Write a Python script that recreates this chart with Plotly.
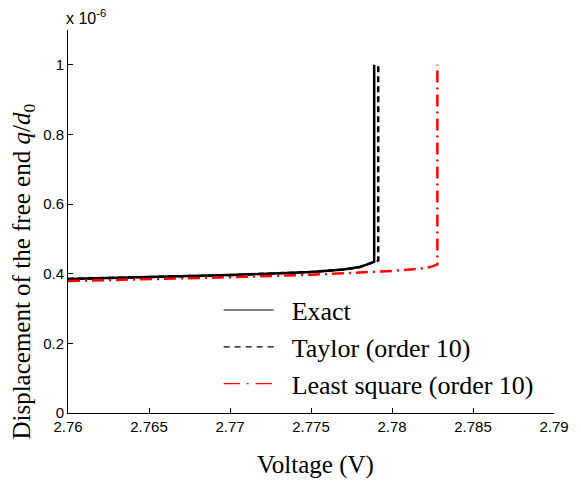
import plotly.graph_objects as go

# Data (displacement in units of 1e-6)
exact_v = [2.760, 2.765, 2.770, 2.775, 2.777, 2.778, 2.7785, 2.7789, 2.7789]
exact_q = [0.385, 0.390, 0.396, 0.405, 0.412, 0.419, 0.427, 0.434, 1.000]

taylor_v = [2.760, 2.765, 2.770, 2.775, 2.777, 2.778, 2.7785, 2.7789, 2.77915, 2.77915]
taylor_q = [0.385, 0.390, 0.396, 0.405, 0.412, 0.419, 0.427, 0.434, 0.438, 1.000]

ls_v = [2.760, 2.765, 2.770, 2.775, 2.780, 2.782, 2.7825, 2.7828, 2.7828]
ls_q = [0.379, 0.384, 0.390, 0.397, 0.408, 0.416, 0.421, 0.427, 1.000]

x_ticks = [2.76, 2.765, 2.77, 2.775, 2.78, 2.785, 2.79]
x_labels = ["2.76", "2.765", "2.77", "2.775", "2.78", "2.785", "2.79"]
y_ticks = [0, 0.2, 0.4, 0.6, 0.8, 1.0]
y_labels = ["0", "0.2", "0.4", "0.6", "0.8", "1"]

SERIF = "Liberation Serif, Times New Roman, serif"
SANS = "Liberation Sans, Arial, sans-serif"
PAD = "\u00a0\u00a0"

fig = go.Figure()
fig.add_trace(go.Scatter(x=exact_v, y=exact_q, mode="lines", showlegend=False,
                         line=dict(color="black", width=2.5)))
fig.add_trace(go.Scatter(x=taylor_v, y=taylor_q, mode="lines", showlegend=False,
                         line=dict(color="black", width=2.5, dash="6px,4px")))
fig.add_trace(go.Scatter(x=ls_v, y=ls_q, mode="lines", showlegend=False,
                         line=dict(color="#ff0000", width=2.5, dash="12px,5px,2px,5px")))

# legend entries (thin lines like the reference)
fig.add_trace(go.Scatter(x=[None], y=[None], mode="lines", name=PAD + "Exact",
                         line=dict(color="black", width=1.2)))
fig.add_trace(go.Scatter(x=[None], y=[None], mode="lines", name=PAD + "Taylor (order 10)",
                         line=dict(color="black", width=1.2, dash="6px,5px")))
fig.add_trace(go.Scatter(x=[None], y=[None], mode="lines", name=PAD + "Least square (order 10)",
                         line=dict(color="#ff0000", width=1.2, dash="16px,7px,2px,7px")))

fig.update_layout(
    width=581, height=482,
    margin=dict(l=68, r=24, t=30, b=69),
    paper_bgcolor="white", plot_bgcolor="white",
    font=dict(family=SANS, size=14, color="black"),
    legend=dict(x=0.31, y=0.33, xanchor="left", yanchor="top",
                bgcolor="rgba(0,0,0,0)", borderwidth=0,
                font=dict(family=SERIF, size=26),
                itemwidth=50, tracegroupgap=4),
    xaxis=dict(range=[2.76, 2.79], tickvals=x_ticks, ticktext=x_labels,
               showgrid=False, zeroline=False, showline=True, linecolor="black",
               linewidth=1, ticks="inside", ticklen=5, tickcolor="black",
               tickfont=dict(size=15)),
    yaxis=dict(range=[0, 1.1], tickvals=y_ticks, ticktext=y_labels,
               showgrid=False, zeroline=False, showline=True, linecolor="black",
               linewidth=1, ticks="inside", ticklen=5, tickcolor="black",
               tickfont=dict(size=15)),
)
fig.add_annotation(text="Voltage (V)", xref="paper", yref="paper",
                   x=0.51, y=-0.135, xanchor="center", yanchor="middle",
                   showarrow=False, font=dict(family=SERIF, size=25))
fig.add_annotation(text="Displacement of the free end <i>q</i>/<i>d</i><sub>0</sub>",
                   xref="paper", yref="paper", x=-0.092, y=0.37,
                   xanchor="center", yanchor="middle", textangle=-90, showarrow=False,
                   font=dict(family=SERIF, size=25))
fig.add_annotation(text="x 10<sup>-6</sup>", xref="paper", yref="paper",
                   x=0, y=1, xanchor="left", yanchor="bottom", showarrow=False,
                   font=dict(family=SANS, size=16),
                   xshift=-4, yshift=1)
fig.write_html("out.html")
